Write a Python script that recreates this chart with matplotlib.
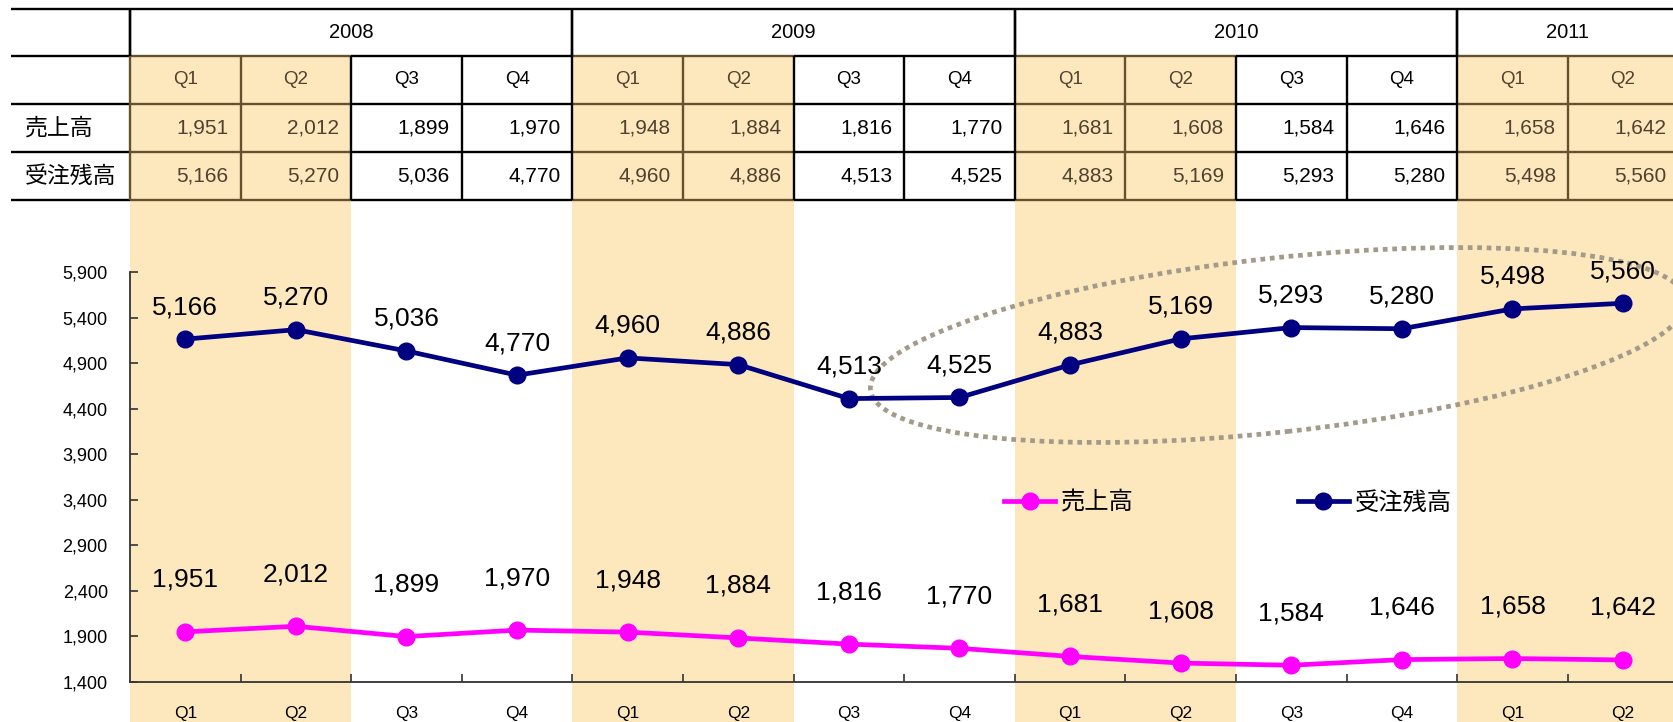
import matplotlib
matplotlib.use("Agg")
import matplotlib.pyplot as plt
from matplotlib.patches import Rectangle, Ellipse
from matplotlib.lines import Line2D
from matplotlib.transforms import blended_transform_factory, offset_copy, IdentityTransform
from matplotlib.ticker import FuncFormatter, FixedLocator

# ---------------- data ----------------
years = ['2008', '2009', '2010', '2011']
quarters_per_year = [4, 4, 4, 2]
quarters = ['Q1', 'Q2', 'Q3', 'Q4', 'Q1', 'Q2', 'Q3', 'Q4',
            'Q1', 'Q2', 'Q3', 'Q4', 'Q1', 'Q2']
sales = [1951, 2012, 1899, 1970, 1948, 1884, 1816, 1770,
         1681, 1608, 1584, 1646, 1658, 1642]
backlog = [5166, 5270, 5036, 4770, 4960, 4886, 4513, 4525,
           4883, 5169, 5293, 5280, 5498, 5560]
series_names = ['売上高', '受注残高']
y_ticks = [1400, 1900, 2400, 2900, 3400, 3900, 4400, 4900, 5400, 5900]

# ---------------- style ----------------
plt.rcParams['font.family'] = ['Liberation Sans', 'Noto Sans CJK JP', 'DejaVu Sans']
W, H = 1674, 722
SHADE = '#FDE7BD'
BROWN = '#64522f'
SHADE_TXT = '#4f422e'
PINK = '#FF00FF'
NAVY = '#000080'

fig = plt.figure(figsize=(W / 100, H / 100), dpi=100)
ax_left, ax_right = 130, 1678.4
ax_top, ax_bot = 272.3, 682
ax = fig.add_axes([ax_left / W, 1 - ax_bot / H, (ax_right - ax_left) / W, (ax_bot - ax_top) / H])
ax.patch.set_visible(False)

n = len(quarters)
x = list(range(n))
ax.set_xlim(-0.5, n - 0.5)
ax.set_ylim(y_ticks[0], y_ticks[-1])

shaded = [q in ('Q1', 'Q2') for q in quarters]
trans = blended_transform_factory(ax.transData, fig.transFigure)

def fy(py):
    return 1 - py / H

# background bands
for i in range(n):
    if shaded[i]:
        ax.add_patch(Rectangle((i - 0.5, 0), 1, fy(56), transform=trans,
                               facecolor=SHADE, edgecolor='none', zorder=0, clip_on=False))

# ---------------- table ----------------
x_tab_left = ax.transData.inverted().transform((11, 0))[0]
x_tab_right = n + 1
rows_y = [8.5, 56, 104, 152, 200]
lw_tab = 1.7

def hline(x0, x1, py, color='black'):
    ax.add_line(Line2D([x0, x1], [fy(py), fy(py)], transform=trans, color=color,
                       lw=lw_tab, zorder=2, clip_on=False, solid_capstyle='butt'))

def vline(xx, py0, py1, color='black'):
    ax.add_line(Line2D([xx, xx], [fy(py0), fy(py1)], transform=trans, color=color,
                       lw=lw_tab, zorder=2, clip_on=False, solid_capstyle='butt'))

# top line
hline(x_tab_left, x_tab_right, rows_y[0])
# other horizontal lines
for py in rows_y[1:]:
    hline(x_tab_left, -0.5, py)
    for i in range(n):
        hline(i - 0.5, i + 0.5, py, BROWN if shaded[i] else 'black')
    hline(n - 0.5, x_tab_right, py)

# year header
start = 0
vline(-0.5, rows_y[0], rows_y[1])
for yr, cnt in zip(years, quarters_per_year):
    ax.text(start - 0.5 + cnt / 2, fy((rows_y[0] + rows_y[1]) / 2), yr, transform=trans,
            ha='center', va='center', fontsize=14.5, zorder=3, clip_on=False)
    vline(start - 0.5, rows_y[0], rows_y[1])
    start += cnt
    if start < n:
        vline(start - 0.5, rows_y[0], rows_y[1])

# vertical lines in rows 2-4
for b in range(n + 1):
    left_sh = shaded[b - 1] if b - 1 >= 0 else True
    right_sh = shaded[b] if b < n else False
    col = BROWN if (left_sh and right_sh) else 'black'
    vline(b - 0.5, rows_y[1], rows_y[4], col)

val_trans = offset_copy(trans, fig=fig, x=-12, y=0, units='dots')
for i in range(n):
    tc = SHADE_TXT if shaded[i] else 'black'
    ax.text(i, fy((rows_y[1] + rows_y[2]) / 2), quarters[i], transform=trans,
            ha='center', va='center', fontsize=13.5, color=tc, zorder=3, clip_on=False)
    ax.text(i + 0.5, fy((rows_y[2] + rows_y[3]) / 2), f'{sales[i]:,}', transform=val_trans,
            ha='right', va='center', fontsize=15, color=tc, zorder=3, clip_on=False)
    ax.text(i + 0.5, fy((rows_y[3] + rows_y[4]) / 2), f'{backlog[i]:,}', transform=val_trans,
            ha='right', va='center', fontsize=15, color=tc, zorder=3, clip_on=False)

lab_trans = blended_transform_factory(fig.transFigure, fig.transFigure)
ax.text(25 / W, fy((rows_y[2] + rows_y[3]) / 2), series_names[0], transform=lab_trans,
        ha='left', va='center', fontsize=16.5, zorder=3, clip_on=False)
ax.text(25 / W, fy((rows_y[3] + rows_y[4]) / 2), series_names[1], transform=lab_trans,
        ha='left', va='center', fontsize=16.5, zorder=3, clip_on=False)

# ---------------- chart ----------------
l1, = ax.plot(x, sales, color=PINK, lw=3.4, marker='o', ms=12, zorder=4,
              clip_on=False, label=series_names[0])
l2, = ax.plot(x, backlog, color=NAVY, lw=3.4, marker='o', ms=12, zorder=4,
              clip_on=False, label=series_names[1])

for i in range(n):
    ax.annotate(f'{sales[i]:,}', (x[i], sales[i]), xytext=(0, 52), textcoords='offset pixels',
                ha='center', va='center', fontsize=19, zorder=5, annotation_clip=False)
    ax.annotate(f'{backlog[i]:,}', (x[i], backlog[i]), xytext=(0, 32), textcoords='offset pixels',
                ha='center', va='center', fontsize=19, zorder=5, annotation_clip=False)

# axes styling
for s in ['top', 'right']:
    ax.spines[s].set_visible(False)
for s in ['left', 'bottom']:
    ax.spines[s].set_color('#333333')
    ax.spines[s].set_linewidth(1.3)
    ax.spines[s].set_zorder(3)

ax.yaxis.set_major_locator(FixedLocator(y_ticks))
ax.yaxis.set_major_formatter(FuncFormatter(lambda v, p: f'{int(v):,}'))
ax.tick_params(axis='y', direction='in', length=6, width=1.2, color='#333333',
               labelsize=13, pad=16)
ax.set_xticks(x)
ax.set_xticklabels(quarters)
ax.set_xticks([i + 0.5 for i in range(n - 1)], minor=True)
ax.tick_params(axis='x', which='major', length=0, labelsize=12.5, pad=17)
ax.tick_params(axis='x', which='minor', direction='in', length=6, width=1.2, color='#333333')

# legend
ax.legend(handles=[l1, l2], ncol=2, loc='center left',
          bbox_to_anchor=(1004 / W, fy(503)), bbox_transform=fig.transFigure,
          frameon=False, borderpad=0, borderaxespad=0, handlelength=2.1,
          handletextpad=0.25, columnspacing=6.75, fontsize=17.5)

# dotted ellipse highlight
ax.add_patch(Ellipse((1278, H - 345), 820, 174, angle=6.3, transform=IdentityTransform(),
                     fill=False, edgecolor='#A39A8A', lw=3.4, linestyle=(0, (1, 1)),
                     zorder=3.5, clip_on=False))

fig.savefig('out.png', dpi=100)
